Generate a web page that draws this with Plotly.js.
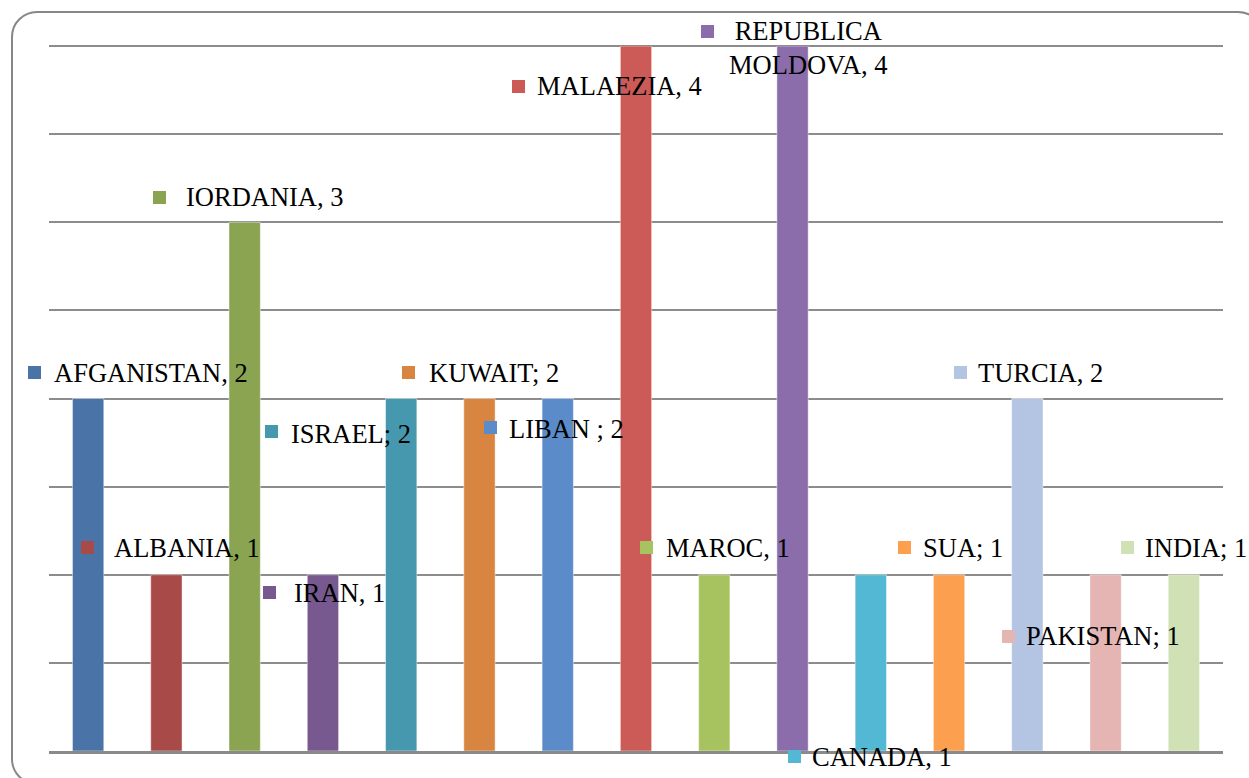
<!DOCTYPE html>
<html>
<head>
<meta charset="utf-8">
<script src="https://cdn.plot.ly/plotly-3.0.1.min.js"></script>
<style>
  html, body { margin: 0; padding: 0; background: #ffffff; }
  #wrap { position: relative; width: 1249px; height: 778px; overflow: hidden; }
  #chart { width: 1249px; height: 778px; }
  #frame { position: absolute; left: 11px; top: 11px; width: 1253px; height: 774px;
           border: 2px solid #878787; border-radius: 26px; pointer-events: none; box-sizing: border-box; }
</style>
</head>
<body>
<div id="wrap">
  <div id="chart"></div>
  <div id="frame"></div>
</div>
<script>
// ---- data ----
const categories = ["AFGANISTAN", "ALBANIA", "IORDANIA", "IRAN", "ISRAEL", "KUWAIT", "LIBAN",
                    "MALAEZIA", "MAROC", "REPUBLICA MOLDOVA", "CANADA", "SUA", "TURCIA", "PAKISTAN", "INDIA"];
const values = [2, 1, 3, 1, 2, 2, 2, 4, 1, 4, 1, 1, 2, 1, 1];
const labelNames = ["AFGANISTAN", "ALBANIA", "IORDANIA", "IRAN", "ISRAEL", "KUWAIT", "LIBAN ",
                    "MALAEZIA", "MAROC", "REPUBLICA<br>MOLDOVA", "CANADA", "SUA", "TURCIA", "PAKISTAN", "INDIA"];
const labelSeps = [", ", ", ", ", ", ", ", "; ", "; ", "; ", ", ", ", ", ", ", ", ", "; ", ", ", "; ", "; "];

// ---- styles ----
const colors = ["#4a74a8", "#a84b48", "#8aa452", "#77598f", "#4698ae", "#d88542", "#5b8bc8",
                "#cc5a56", "#a6c35f", "#8b6dab", "#52b8d3", "#fca04f", "#b4c5e3", "#e4b5b3", "#d0e1b6"];

const X_MIN = -0.5, X_MAX = 14.5, Y_MIN = 0, Y_MAX = 4;

// label placement (category index units, value units)
const textPos = [[-0.462, 2.145], [0.304, 1.152], [1.223, 3.143], [2.602, 0.896], [2.564, 1.799],
                 [4.326, 2.145], [5.347, 1.827], [5.704, 3.773], [7.364, 1.152], [9.202, 3.989],
                 [9.228, -0.034], [10.645, 1.152], [11.347, 2.145], [11.960, 0.652], [13.479, 1.152]];
const squarePos = [[-0.679, 2.150], [-0.003, 1.152], [0.917, 3.143], [2.321, 0.902], [2.346, 1.810],
                   [4.095, 2.150], [5.142, 1.838], [5.500, 3.773], [7.134, 1.152], [7.912, 4.085],
                   [9.023, -0.034], [10.428, 1.157], [11.143, 2.150], [11.755, 0.652], [13.274, 1.157]];

const px = x => (x - X_MIN) / (X_MAX - X_MIN);
const py = y => (y - Y_MIN) / (Y_MAX - Y_MIN);

const idx = categories.map((c, i) => i);

const bars = {
  type: "bar",
  x: idx,
  y: values,
  marker: { color: colors, line: { color: "rgba(255,255,255,0.45)", width: 1 } },
  width: 0.4,
  hoverinfo: "skip",
  showlegend: false
};

const textAnnotations = categories.map((c, i) => ({
  xref: "paper", yref: "paper",
  x: px(textPos[i][0]), y: py(textPos[i][1]),
  text: labelNames[i] + labelSeps[i] + values[i],
  showarrow: false,
  xanchor: i === 9 ? "center" : "left",
  yanchor: "middle",
  align: "center",
  font: { family: "Liberation Serif, Times New Roman, serif", size: 26.5, color: "#000000" }
}));

const squareAnnotations = categories.map((c, i) => ({
  xref: "paper", yref: "paper",
  x: px(squarePos[i][0]), y: py(squarePos[i][1]),
  text: " ",
  showarrow: false,
  xanchor: "center", yanchor: "middle",
  width: 13, height: 13,
  borderpad: 0, borderwidth: 0,
  bgcolor: colors[i],
  font: { size: 4 }
}));

const layout = {
  width: 1249, height: 778,
  margin: { l: 49, r: 26, t: 46, b: 27 },
  paper_bgcolor: "#ffffff",
  plot_bgcolor: "#ffffff",
  xaxis: {
    range: [X_MIN, X_MAX],
    showticklabels: false, ticks: "", showgrid: false, zeroline: false,
    showline: true, linecolor: "#8a8a8a", linewidth: 3,
    fixedrange: true
  },
  yaxis: {
    range: [Y_MIN, Y_MAX], dtick: 0.5, tick0: 0,
    showticklabels: false, ticks: "",
    showgrid: true, gridcolor: "#8c8c8c", gridwidth: 2,
    zeroline: false, showline: false, fixedrange: true
  },
  shapes: [{
    type: "line", xref: "paper", yref: "paper", x0: 0, x1: 1, y0: 1, y1: 1,
    line: { color: "#8c8c8c", width: 2 }, layer: "below"
  }],
  annotations: squareAnnotations.concat(textAnnotations),
  showlegend: false
};

Plotly.newPlot("chart", [bars], layout, { displayModeBar: false, staticPlot: true });
</script>
</body>
</html>
